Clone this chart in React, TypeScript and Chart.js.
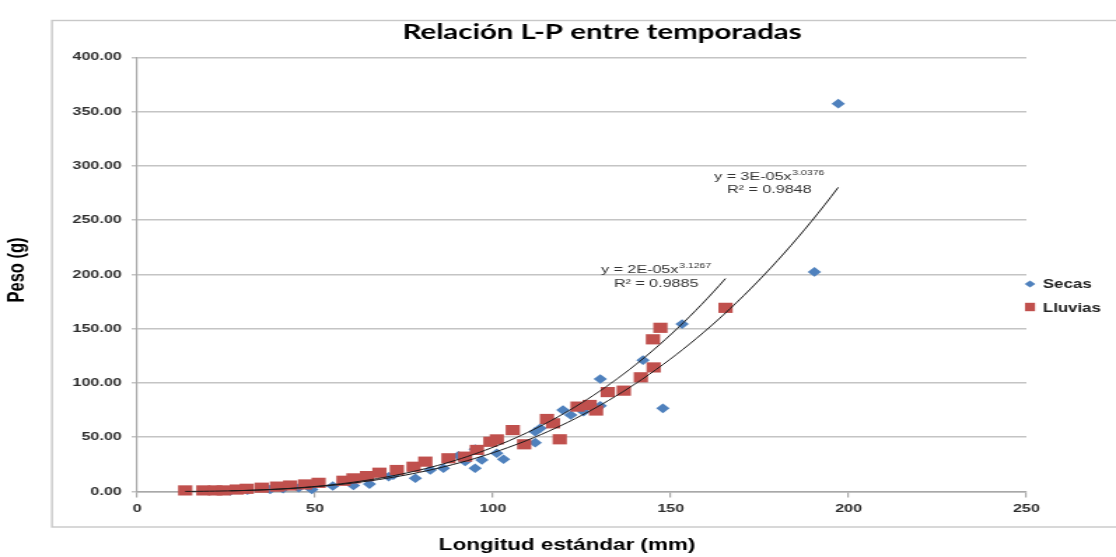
import React, { useEffect, useRef } from 'react';
import { Chart, registerables } from 'chart.js';

Chart.register(...registerables);

// ---------- text ----------
const CHART_TITLE = 'Relación L-P entre temporadas';
const X_TITLE = 'Longitud estándar (mm)';
const Y_TITLE = 'Peso (g)';
const SERIES_NAMES = ['Secas', 'Lluvias'];

// ---------- data ----------
const SECAS_X = [26.2, 31.0, 37.4, 41.0, 45.4, 49.1, 50.0, 55.0, 60.8, 65.3, 70.7, 72.0, 78.2, 82.4, 86.1, 90.3, 92.2, 95.0, 95.0, 96.9, 101.1, 103.0, 111.9, 111.9, 113.3, 119.7, 121.9, 125.5, 130.2, 130.2, 142.2, 147.8, 153.2, 190.4, 197.1];
const SECAS_Y = [0.6, 1.2, 2.0, 2.5, 3.5, 1.8, 7.0, 5.0, 5.5, 6.8, 13.6, 15.0, 12.2, 19.9, 21.4, 33.0, 27.6, 21.4, 39.0, 29.0, 35.2, 29.7, 45.0, 55.0, 58.2, 75.0, 70.5, 73.5, 78.9, 103.7, 121.0, 76.6, 154.2, 202.3, 357.3];

const LLUVIAS_X = [13.5, 18.6, 21.9, 24.3, 28.0, 30.8, 35.0, 39.3, 43.0, 47.2, 51.0, 58.0, 60.8, 64.6, 68.1, 73.0, 77.7, 81.0, 87.5, 92.2, 95.5, 99.3, 101.1, 105.6, 108.8, 115.2, 116.9, 118.8, 123.8, 127.2, 129.0, 132.3, 136.8, 141.6, 145.2, 145.0, 147.1, 165.4];
const LLUVIAS_Y = [1.0, 1.0, 1.0, 1.0, 1.8, 2.5, 3.5, 4.5, 5.5, 6.5, 8.0, 9.9, 12.1, 14.2, 17.3, 19.8, 22.8, 27.5, 30.6, 32.1, 38.3, 45.8, 48.0, 56.6, 43.5, 66.8, 62.8, 48.1, 78.2, 79.7, 74.6, 91.6, 92.9, 105.2, 114.3, 140.2, 150.8, 169.2];

// power trendlines y = a * x^b (coefficient shown rounded in the label)
const TREND_SECAS = { a: 3e-5, b: 3.0376 };
const TREND_LLUVIAS = { a: 2.27e-5, b: 3.1267 };
const TREND_SECAS_TEXT = ['y = 3E-05x', '3.0376', 'R² = 0.9848'];
const TREND_LLUVIAS_TEXT = ['y = 2E-05x', '3.1267', 'R² = 0.9885'];

// ---------- ticks ----------
const X_TICKS = [0, 50, 100, 150, 200, 250];
const X_TICK_LABELS = ['0', '50', '100', '150', '200', '250'];
const Y_TICKS = [0, 50, 100, 150, 200, 250, 300, 350, 400];
const Y_TICK_LABELS = ['0.00', '50.00', '100.00', '150.00', '200.00', '250.00', '300.00', '350.00', '400.00'];

// ---------- layout / style ----------
const SHOWN_W = 1116;
const SHOWN_H = 557;
const STRETCH = 1.4; // reference image is stretched horizontally
const CANVAS_W = Math.round(SHOWN_W / STRETCH);
const SX = SHOWN_W / CANVAS_W;
const ix = (px: number) => px / SX; // shown px -> canvas px (x only)

const SECAS_COLOR = '#4F81BD';
const LLUVIAS_COLOR = '#C0504D';
const GRID_COLOR = '#c4c4c4';
const AXIS_COLOR = '#a8a8a8';
const TEXT_COLOR = '#2e2e2e';

// label anchors (data units)
const SECAS_LABEL_AT = { x: 177.7, yEq: 290, yR2: 277.8 };
const LLUVIAS_LABEL_AT = { x: 145.9, yEq: 204, yR2: 191.2 };

function powerCurve(t: { a: number; b: number }, xs: number[], n = 90) {
  const x0 = Math.min(...xs);
  const x1 = Math.max(...xs);
  const pts: { x: number; y: number }[] = [];
  for (let i = 0; i <= n; i++) {
    const x = x0 + ((x1 - x0) * i) / n;
    pts.push({ x, y: t.a * Math.pow(x, t.b) });
  }
  return pts;
}

const toPoints = (xs: number[], ys: number[]) => xs.map((x, i) => ({ x, y: ys[i] }));

function drawTrendLabel(ctx: CanvasRenderingContext2D, chart: any, text: string[], at: { x: number; yEq: number; yR2: number }) {
  const xs = chart.scales.x;
  const ys = chart.scales.y;
  const cx = xs.getPixelForValue(at.x);
  ctx.fillStyle = '#333333';
  ctx.textBaseline = 'middle';
  ctx.textAlign = 'left';
  const mainFont = '11.5px "Liberation Sans"';
  const supFont = '7.5px "Liberation Sans"';
  ctx.font = mainFont;
  const w1 = ctx.measureText(text[0]).width;
  ctx.font = supFont;
  const w2 = ctx.measureText(text[1]).width;
  const start = cx - (w1 + w2 + 0.5) / 2;
  const yEq = ys.getPixelForValue(at.yEq);
  ctx.font = mainFont;
  ctx.fillText(text[0], start, yEq);
  ctx.font = supFont;
  ctx.fillText(text[1], start + w1 + 0.5, yEq - 4);
  ctx.font = mainFont;
  ctx.textAlign = 'center';
  ctx.fillText(text[2], cx, ys.getPixelForValue(at.yR2));
}

const decorPlugin = {
  id: 'decor',
  beforeDraw(chart: any) {
    const ctx: CanvasRenderingContext2D = chart.ctx;
    ctx.save();
    ctx.fillStyle = '#ffffff';
    ctx.fillRect(0, 0, chart.width, chart.height);
    ctx.strokeStyle = '#c8c8c8';
    ctx.lineWidth = 1.4;
    ctx.strokeRect(ix(52), 20.5, chart.width, 506.5);
    ctx.restore();
  },
  afterDraw(chart: any) {
    const ctx: CanvasRenderingContext2D = chart.ctx;
    ctx.save();
    // chart title
    ctx.fillStyle = '#000';
    ctx.textAlign = 'center';
    ctx.textBaseline = 'middle';
    ctx.font = 'bold 21px Lato';
    ctx.fillText(CHART_TITLE, ix(602), 32);
    // axis titles
    ctx.font = 'bold 16px "Liberation Sans"';
    ctx.fillText(X_TITLE, ix(567), 546);
    ctx.save();
    ctx.translate(ix(18), 270);
    ctx.rotate(-Math.PI / 2);
    ctx.font = 'bold 16.5px "Liberation Sans"';
    ctx.fillText(Y_TITLE, 0, 0);
    ctx.restore();
    // legend
    const lx = ix(1030);
    const y1 = 284;
    const y2 = 307;
    ctx.fillStyle = SECAS_COLOR;
    ctx.beginPath();
    ctx.moveTo(lx, y1 - 3.4);
    ctx.lineTo(lx + 3.8, y1);
    ctx.lineTo(lx, y1 + 3.4);
    ctx.lineTo(lx - 3.8, y1);
    ctx.closePath();
    ctx.fill();
    ctx.fillStyle = LLUVIAS_COLOR;
    ctx.fillRect(lx - 3.6, y2 - 4.2, 7.2, 8.4);
    ctx.fillStyle = '#222';
    ctx.textAlign = 'left';
    ctx.font = 'bold 12px "Liberation Sans"';
    ctx.fillText(SERIES_NAMES[0], ix(1043), y1 + 0.5);
    ctx.fillText(SERIES_NAMES[1], ix(1043), y2 + 1.5);
    // trendline labels
    drawTrendLabel(ctx, chart, TREND_SECAS_TEXT, SECAS_LABEL_AT);
    drawTrendLabel(ctx, chart, TREND_LLUVIAS_TEXT, LLUVIAS_LABEL_AT);
    ctx.restore();
  },
};

export default function App() {
  const ref = useRef<HTMLCanvasElement>(null);
  useEffect(() => {
    document.body.style.margin = '0';
    const canvas = ref.current;
    if (!canvas) return;
    const tickFont = { family: 'Liberation Sans', weight: 'bold' as const, size: 11.5 };
    const chart = new Chart(canvas, {
      type: 'scatter',
      data: {
        datasets: [
          {
            type: 'line',
            label: 'Potencial (Secas)',
            data: powerCurve(TREND_SECAS, SECAS_X),
            borderColor: '#1a1a1a',
            borderWidth: 1,
            pointRadius: 0,
            showLine: true,
            fill: false,
            tension: 0,
            order: 1,
            clip: false,
          } as any,
          {
            type: 'line',
            label: 'Potencial (Lluvias)',
            data: powerCurve(TREND_LLUVIAS, LLUVIAS_X),
            borderColor: '#1a1a1a',
            borderWidth: 1,
            pointRadius: 0,
            showLine: true,
            fill: false,
            tension: 0,
            order: 1,
            clip: false,
          } as any,
          {
            label: SERIES_NAMES[1],
            data: toPoints(LLUVIAS_X, LLUVIAS_Y),
            pointStyle: 'rect',
            pointRadius: 7.2,
            backgroundColor: LLUVIAS_COLOR,
            borderColor: LLUVIAS_COLOR,
            borderWidth: 0,
            order: 2,
            clip: false,
          } as any,
          {
            label: SERIES_NAMES[0],
            data: toPoints(SECAS_X, SECAS_Y),
            pointStyle: 'rectRot',
            pointRadius: 4.8,
            backgroundColor: SECAS_COLOR,
            borderColor: SECAS_COLOR,
            borderWidth: 0,
            order: 3,
            clip: false,
          } as any,
        ],
      },
      options: {
        animation: false,
        responsive: false,
        devicePixelRatio: 1,
        events: [],
        layout: { padding: { top: 57.3, right: CANVAS_W - ix(1026.4), bottom: 0, left: 0 } },
        plugins: {
          legend: { display: false },
          title: { display: false },
          tooltip: { enabled: false },
        },
        scales: {
          x: {
            type: 'linear',
            min: 0,
            max: 250,
            afterBuildTicks: (scale: any) => {
              scale.ticks = X_TICKS.map((v) => ({ value: v }));
            },
            afterFit: (scale: any) => {
              scale.height = SHOWN_H - 491.5;
            },
            ticks: {
              color: TEXT_COLOR,
              font: tickFont,
              padding: 4.5,
              maxRotation: 0,
              callback: (v: any) => X_TICK_LABELS[X_TICKS.indexOf(Number(v))] ?? '',
            },
            grid: {
              display: true,
              drawOnChartArea: false,
              drawTicks: true,
              tickLength: 6,
              color: AXIS_COLOR,
              lineWidth: 1.2,
            },
            border: { display: true, color: AXIS_COLOR, width: 1.6 },
          },
          y: {
            type: 'linear',
            min: 0,
            max: 400,
            afterBuildTicks: (scale: any) => {
              scale.ticks = Y_TICKS.map((v) => ({ value: v }));
            },
            afterFit: (scale: any) => {
              scale.width = ix(137.2);
            },
            ticks: {
              color: TEXT_COLOR,
              font: tickFont,
              padding: 7,
              callback: (v: any) => Y_TICK_LABELS[Y_TICKS.indexOf(Number(v))] ?? '',
            },
            grid: {
              display: true,
              drawOnChartArea: true,
              drawTicks: true,
              tickLength: 4,
              color: GRID_COLOR,
              lineWidth: 1.5,
            },
            border: { display: true, color: AXIS_COLOR, width: 1.2 },
          },
        },
      },
      plugins: [decorPlugin],
    } as any);
    return () => chart.destroy();
  }, []);

  return (
    <div style={{ width: SHOWN_W, height: SHOWN_H, overflow: 'hidden' }}>
      <canvas
        ref={ref}
        width={CANVAS_W}
        height={SHOWN_H}
        style={{ width: SHOWN_W + 'px', height: SHOWN_H + 'px', display: 'block' }}
      />
    </div>
  );
}
